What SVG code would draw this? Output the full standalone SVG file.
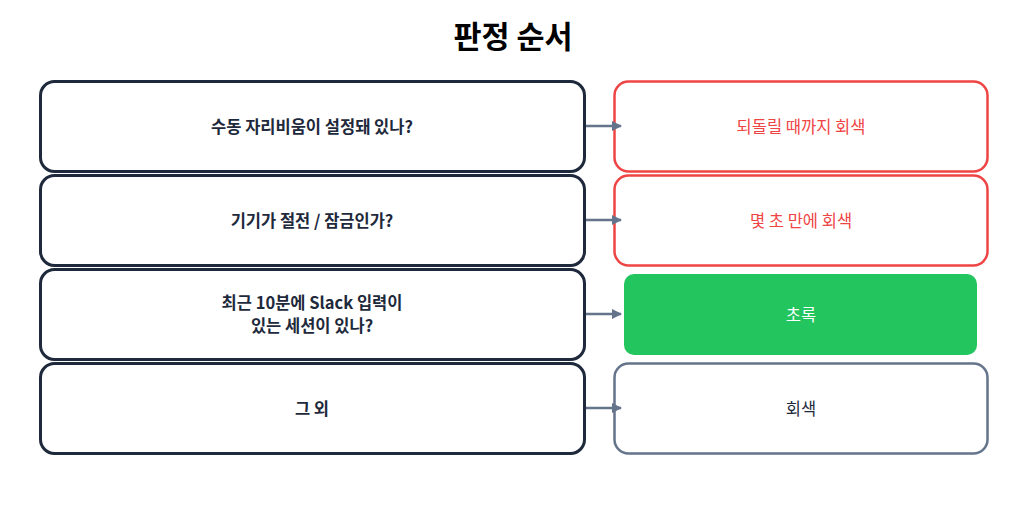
<svg xmlns="http://www.w3.org/2000/svg" width="1027" height="528" viewBox="0 0 1027 528">
<defs>
<marker id="ah" viewBox="0 0 10 10" refX="9" refY="5" markerWidth="4" markerHeight="4" orient="auto" markerUnits="strokeWidth">
<path d="M0,0 L10,5 L0,10 z" fill="#64748b"/>
</marker>
<style>
.q{fill:#fff;stroke:#1e293b;stroke-width:3}
.r{fill:#fff;stroke:#ef4444;stroke-width:2.5}
.g{fill:#fff;stroke:#64748b;stroke-width:2.5}
.gr{fill:#22c55e;stroke:none}
text{font-family:"Noto Sans CJK KR","Noto Sans",sans-serif;text-anchor:middle;dominant-baseline:central}
.qt{font-size:16.5px;font-weight:bold;fill:#1e293b}
.rt{font-size:16.5px;fill:#ef4444}
.wt{font-size:16.5px;fill:#ffffff}
.dt{font-size:16.5px;fill:#1e293b}
.c{stroke:#64748b;stroke-width:2.5;fill:none;marker-end:url(#ah)}
</style>
</defs>
<rect width="1027" height="528" fill="#fff"/>
<text x="513" y="35" style="font-size:30.5px;font-weight:bold;fill:#000">판정 순서</text>
<g id="q1"><rect class="q" x="40.5" y="81.5" width="544" height="90" rx="14"/><text class="qt" x="312" y="126">수동 자리비움이 설정돼 있나?</text></g>
<g id="q2"><rect class="q" x="40.5" y="175.5" width="544" height="90" rx="14"/><text class="qt" x="312" y="220">기기가 절전 / 잠금인가?</text></g>
<g id="q3"><rect class="q" x="40.5" y="269.5" width="544" height="90" rx="14"/><text class="qt" x="312" y="302">최근 10분에 Slack 입력이</text><text class="qt" x="312" y="325">있는 세션이 있나?</text></g>
<g id="q4"><rect class="q" x="40.5" y="363.5" width="544" height="90" rx="14"/><text class="qt" x="312" y="408">그 외</text></g>
<g id="a1"><rect class="r" x="614.5" y="81.5" width="373" height="90" rx="14"/><text class="rt" x="801" y="126">되돌릴 때까지 회색</text></g>
<g id="a2"><rect class="r" x="614.5" y="175.5" width="373" height="90" rx="14"/><text class="rt" x="801" y="220">몇 초 만에 회색</text></g>
<g id="a3"><rect class="gr" x="624" y="274" width="353" height="81" rx="10"/><text class="wt" x="801" y="314">초록</text></g>
<g id="a4"><rect class="g" x="614.5" y="363.5" width="373" height="90" rx="14"/><text class="dt" x="801" y="408">회색</text></g>
<g id="connectors">
<line class="c" x1="586" y1="126" x2="621" y2="126"/>
<line class="c" x1="586" y1="220" x2="621" y2="220"/>
<line class="c" x1="586" y1="314" x2="621" y2="314"/>
<line class="c" x1="586" y1="408" x2="621" y2="408"/>
</g>
</svg>
